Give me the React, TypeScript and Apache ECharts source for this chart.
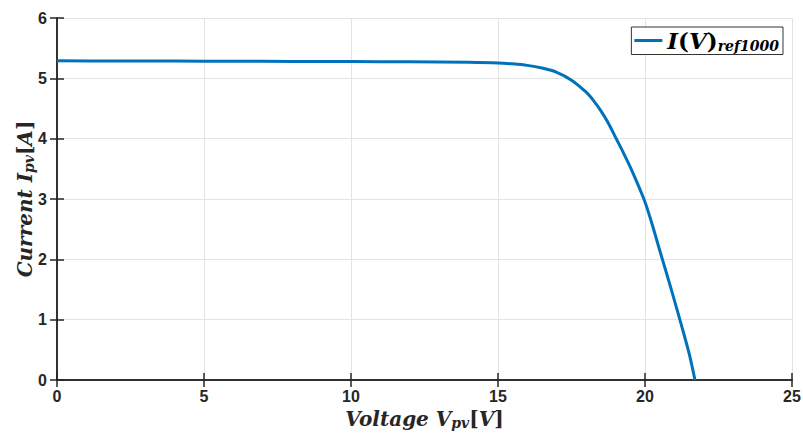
import React, { useEffect, useRef } from "react";
import * as echarts from "echarts";

const voltage = [0, 2, 4, 6, 8, 10, 12, 14, 15, 15.5, 16, 16.5, 17, 17.5, 18, 18.25, 18.5, 18.75, 19, 19.25, 19.5, 19.75, 20, 20.25, 20.5, 20.75, 21, 21.25, 21.5, 21.7];
const current = [5.29, 5.288, 5.286, 5.284, 5.281, 5.278, 5.274, 5.265, 5.255, 5.24, 5.215, 5.17, 5.1, 4.97, 4.77, 4.63, 4.46, 4.26, 4.02, 3.78, 3.53, 3.25, 2.95, 2.57, 2.15, 1.74, 1.32, 0.89, 0.44, 0.0];
const xTicks = [0, 5, 10, 15, 20, 25];
const yTicks = [0, 1, 2, 3, 4, 5, 6];

const tickFont = { fontFamily: "Liberation Sans, Arial, sans-serif", fontWeight: "bold" as const, fontSize: 16, color: "#262626" };
const serif = "DejaVu Serif, Liberation Serif, serif";

export default function App() {
  const ref = useRef<HTMLDivElement>(null);
  useEffect(() => {
    document.body.style.margin = "0";
    if (!ref.current) return;
    const chart = echarts.init(ref.current, undefined, { renderer: "svg" });
    const data = voltage.map((v, i) => [v, current[i]]);
    const nameRich = {
      m: { fontFamily: serif, fontStyle: "italic" as const, fontWeight: "bold" as const, fontSize: 20, color: "#262626" },
      u: { fontFamily: serif, fontStyle: "normal" as const, fontWeight: "bold" as const, fontSize: 20, color: "#262626" },
      s: { fontFamily: serif, fontStyle: "italic" as const, fontWeight: "bold" as const, fontSize: 14, color: "#262626", padding: [9, 0, 0, 0] },
    };
    const axisCommon = {
      axisLine: { show: true, lineStyle: { color: "#262626", width: 1.5 } },
      axisTick: { show: true, inside: true, length: 7, lineStyle: { color: "#262626", width: 1.5 } },
    };
    chart.setOption({
      animation: false,
      backgroundColor: "#ffffff",
      grid: { left: 57, right: 11, top: 18, bottom: 54, containLabel: false, outerBoundsMode: "none" },
      legend: {
        show: true,
        right: 20,
        top: 27,
        backgroundColor: "#ffffff",
        borderColor: "#333333",
        borderWidth: 1,
        borderRadius: 0,
        padding: [2, 4, 2, 3],
        itemWidth: 28,
        itemHeight: 3,
        itemGap: 2,
        icon: "rect",
        data: ["I(V)ref1000"],
        formatter: () => "{a|I}{u|(}{a|V}{u|)}{b|ref1000}",
        textStyle: {
          rich: {
            a: { fontFamily: serif, fontStyle: "italic", fontWeight: "bold", fontSize: 23, color: "#000" },
            u: { fontFamily: serif, fontStyle: "normal", fontWeight: "bold", fontSize: 23, color: "#000" },
            b: { fontFamily: serif, fontStyle: "italic", fontWeight: "bold", fontSize: 14, color: "#000", padding: [10, 0, 0, 0] },
          },
        },
      },
      xAxis: [
        {
          type: "value",
          min: 0,
          max: 25,
          interval: 5,
          position: "bottom",
          ...axisCommon,
          axisLabel: { ...tickFont, margin: 8, formatter: (v: number) => (xTicks.includes(v) ? String(v) : "") },
          splitLine: { show: true, lineStyle: { color: "#e3e3e3", width: 1 } },
          name: "{m|Voltage V}{s|pv}{u|[}{m|V}{u|]}",
          nameLocation: "middle",
          nameGap: 27,
          nameMoveOverlap: false,
          nameTextStyle: { rich: nameRich },
        },
        {
          type: "value",
          min: 0,
          max: 25,
          interval: 5,
          position: "top",
          ...axisCommon,
          axisLabel: { show: false },
          splitLine: { show: false },
        },
      ],
      yAxis: [
        {
          type: "value",
          min: 0,
          max: 6,
          interval: 1,
          position: "left",
          ...axisCommon,
          axisLabel: { ...tickFont, margin: 10, formatter: (v: number) => (yTicks.includes(v) ? String(v) : "") },
          splitLine: { show: true, lineStyle: { color: "#e3e3e3", width: 1 } },
          name: "{m|Current I}{s|pv}{u|[}{m|A}{u|]}",
          nameLocation: "middle",
          nameGap: 21,
          nameRotate: 90,
          nameMoveOverlap: false,
          nameTextStyle: { rich: nameRich },
        },
        {
          type: "value",
          min: 0,
          max: 6,
          interval: 1,
          position: "right",
          ...axisCommon,
          axisLabel: { show: false },
          splitLine: { show: false },
        },
      ],
      series: [
        {
          name: "I(V)ref1000",
          type: "line",
          xAxisIndex: 0,
          yAxisIndex: 0,
          data,
          smooth: 0.3,
          showSymbol: false,
          symbol: "none",
          lineStyle: { color: "#0072BD", width: 3 },
          itemStyle: { color: "#0072BD" },
        },
      ],
    });
    return () => chart.dispose();
  }, []);
  return <div ref={ref} style={{ width: 803, height: 434 }} />;
}
